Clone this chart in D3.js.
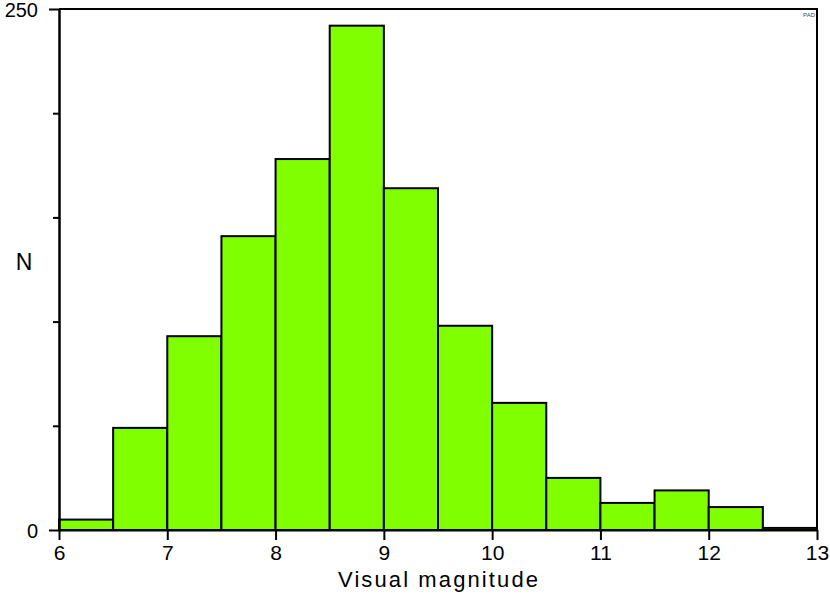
<!DOCTYPE html>
<html>
<head>
<meta charset="utf-8">
<script src="https://cdn.jsdelivr.net/npm/d3@7"></script>
<style>
  body { margin: 0; background: #fff; }
  svg { display: block; font-family: "Liberation Sans", Arial, sans-serif; }
</style>
</head>
<body>
<div id="chart"></div>
<script>
// histogram of visual magnitudes, bins of 0.5 mag
var binStarts = [6, 6.5, 7, 7.5, 8, 8.5, 9, 9.5, 10, 10.5, 11, 11.5, 12, 12.5];
var binWidth = 0.5;
var counts = [5, 49, 93, 141, 178, 242, 164, 98, 61, 25, 13, 19, 11, 1];
var xTicks = [6, 7, 8, 9, 10, 11, 12, 13];
var yMajor = [0, 250];
var yMinor = [50, 100, 150, 200];

var width = 830, height = 596;
var margin = {top: 9, right: 13, bottom: 66, left: 59};

var svg = d3.select("#chart").append("svg")
    .attr("width", width)
    .attr("height", height);

var x = d3.scaleLinear().domain([6, 13]).range([margin.left, width - margin.right]);
var y = d3.scaleLinear().domain([0, 250]).range([height - margin.bottom, margin.top]);

var bins = binStarts.map(function(b, i) { return {x0: b, x1: b + binWidth, n: counts[i]}; });

svg.selectAll("rect.bar")
    .data(bins)
    .enter()
    .append("rect")
    .attr("class", "bar")
    .attr("x", function(d) { return x(d.x0); })
    .attr("y", function(d) { return y(d.n); })
    .attr("width", function(d) { return x(d.x1) - x(d.x0); })
    .attr("height", function(d) { return y(0) - y(d.n); })
    .attr("fill", "#80ff00")
    .attr("stroke", "#000")
    .attr("stroke-width", 2);

// frame (top + right)
svg.append("path")
    .attr("d", "M" + x(6) + "," + y(250) + "H" + x(13) + "V" + y(0))
    .attr("fill", "none")
    .attr("stroke", "#000")
    .attr("stroke-width", 2);

function styleAxis(g, fs) {
  g.selectAll("path.domain").attr("stroke", "#000").attr("stroke-width", 2);
  g.selectAll(".tick line").attr("stroke", "#000").attr("stroke-width", 2);
  g.selectAll(".tick text").attr("fill", "#000").attr("font-size", fs);
  g.attr("font-family", null);
}

var gx = svg.append("g")
    .attr("transform", "translate(0," + y(0) + ")")
    .call(d3.axisBottom(x).tickValues(xTicks).tickSize(10).tickPadding(5).tickSizeOuter(0).tickFormat(d3.format("d")));
styleAxis(gx, 21);

var gyMinor = svg.append("g")
    .attr("transform", "translate(" + x(6) + ",0)")
    .call(d3.axisLeft(y).tickValues(yMinor).tickSize(6).tickSizeOuter(0).tickFormat(""));
styleAxis(gyMinor, 20);

var gy = svg.append("g")
    .attr("transform", "translate(" + x(6) + ",0)")
    .call(d3.axisLeft(y).tickValues(yMajor).tickSize(10).tickPadding(11).tickSizeOuter(0).tickFormat(d3.format("d")));
styleAxis(gy, 20);
gy.selectAll(".tick text").attr("dy", "0.38em");

svg.append("text")
    .attr("x", (x(6) + x(13)) / 2)
    .attr("y", 587)
    .attr("text-anchor", "middle")
    .attr("font-size", 22)
    .attr("textLength", 200)
    .attr("lengthAdjust", "spacing")
    .text("Visual magnitude");

svg.append("text")
    .attr("x", 24)
    .attr("y", 270)
    .attr("text-anchor", "middle")
    .attr("font-size", 23)
    .text("N");

svg.append("text")
    .attr("x", 815)
    .attr("y", 17)
    .attr("text-anchor", "end")
    .attr("font-size", 6)
    .attr("fill", "#444")
    .text("PAD");
</script>
</body>
</html>
